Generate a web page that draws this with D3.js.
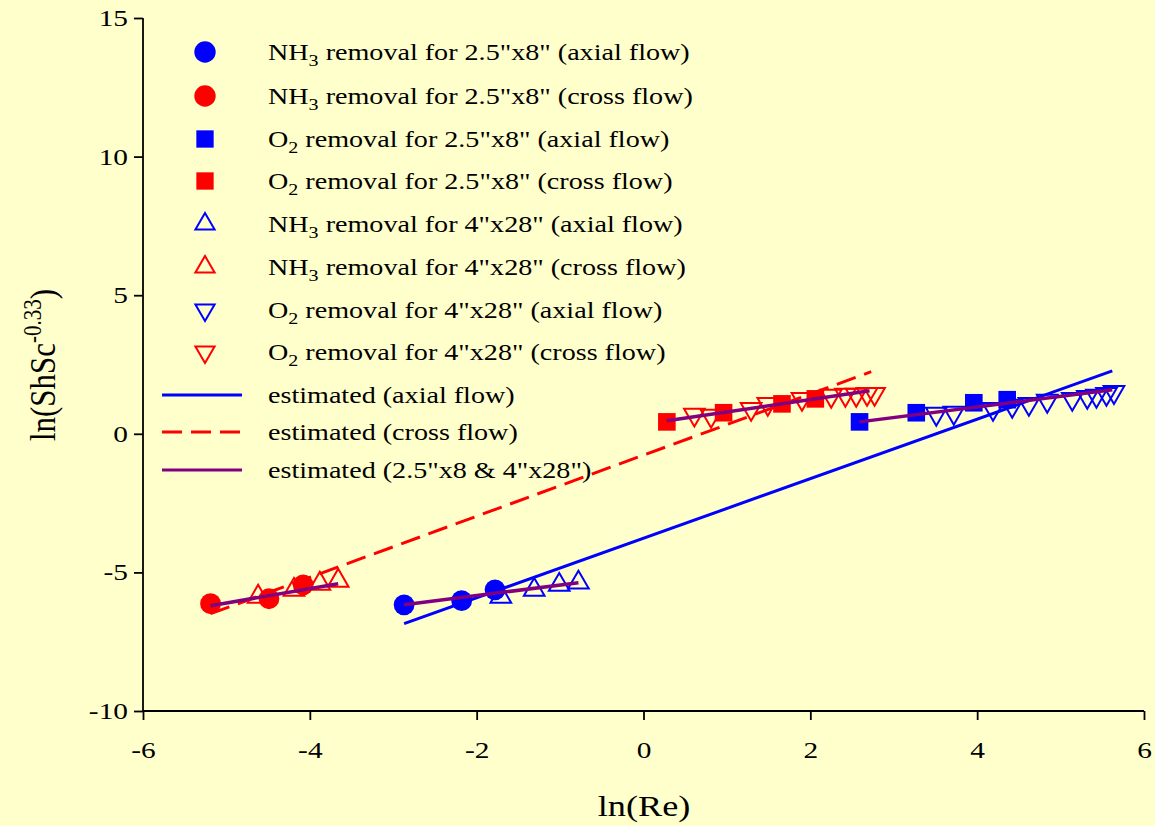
<!DOCTYPE html>
<html><head><meta charset="utf-8">
<script src="https://cdn.jsdelivr.net/npm/d3@7/dist/d3.min.js"></script>
<style>body{margin:0;background:#FFFFCC;}svg{display:block;} text{font-family:"Liberation Serif","DejaVu Serif",serif;}</style>
</head><body>
<svg id="c" width="1155" height="826"></svg>
<script>
// ---- data ----
const nh3SmallAxialX = [-2.87, -2.18, -1.78];
const nh3SmallAxialY = [-6.17, -6.02, -5.63];
const nh3SmallCrossX = [-5.19, -4.49, -4.08];
const nh3SmallCrossY = [-6.13, -5.95, -5.45];
const o2SmallAxialX = [2.59, 3.27, 3.96, 4.36];
const o2SmallAxialY = [0.43, 0.76, 1.12, 1.23];
const o2SmallCrossX = [0.28, 0.96, 1.66, 2.06];
const o2SmallCrossY = [0.43, 0.76, 1.08, 1.26];
const nh3LargeAxialX = [-1.71, -1.31, -1.01, -0.78];
const nh3LargeAxialY = [-5.88, -5.63, -5.45, -5.37];
const nh3LargeCrossX = [-4.62, -4.19, -3.88, -3.66];
const nh3LargeCrossY = [-5.88, -5.63, -5.41, -5.30];
const o2LargeAxialX = [3.51, 3.72, 4.19, 4.42, 4.62, 4.84, 5.14, 5.32, 5.43, 5.55, 5.64];
const o2LargeAxialY = [0.72, 0.76, 0.90, 1.01, 1.08, 1.19, 1.26, 1.33, 1.37, 1.44, 1.51];
const o2LargeCrossX = [0.61, 0.81, 1.29, 1.49, 1.90, 2.25, 2.42, 2.55, 2.68, 2.77];
const o2LargeCrossY = [0.69, 0.65, 0.90, 1.08, 1.26, 1.37, 1.41, 1.41, 1.44, 1.44];
// estimated lines (endpoints)
const estAxialX = [-2.87, 5.62], estAxialY = [-6.85, 2.27];
const estCrossX = [-5.19, 2.73], estCrossY = [-6.49, 2.24];
const estGroupX = [[-5.19, -3.66], [-2.87, -0.78], [0.28, 2.71], [2.59, 5.62]];
const estGroupY = [[-6.20, -5.41], [-6.17, -5.37], [0.47, 1.55], [0.43, 1.59]];
const xTicks = [-6, -4, -2, 0, 2, 4, 6];
const yTicks = [-10, -5, 0, 5, 10, 15];

// ---- drawing ----
const svg = d3.select("#c");
svg.append("rect").attr("width",1155).attr("height",826).attr("fill","#FFFFCC");
const x = d3.scaleLinear().domain([-6, 6]).range([143, 1144]);
const y = d3.scaleLinear().domain([-10, 15]).range([711, 18]);
const font = "Liberation Serif";
const SX = 1.25; // horizontal stretch of the original's text
const BLUE = "#0000FF", RED = "#FF0000", PURPLE = "#800080";

const xa = svg.append("g").attr("transform","translate(0,711)")
  .call(d3.axisBottom(x).tickValues(xTicks).tickSize(9).tickPadding(21).tickFormat(d => String(d)));
const ya = svg.append("g").attr("transform","translate(143,0)")
  .call(d3.axisLeft(y).tickValues(yTicks).tickSize(9).tickPadding(6).tickFormat(d => String(d)));
[xa, ya].forEach(a => {
  a.attr("font-family", null).attr("font-size", null);
  a.selectAll("path,line").attr("stroke","#000").attr("stroke-width",1.8);
  a.selectAll("text").style("font-family",font).style("font-size","23.5px").attr("fill","#000")
    .each(function() {
      const t = d3.select(this);
      const tx = +t.attr("x") || 0, ty = +t.attr("y") || 0;
      t.attr("x", 0).attr("y", 0).attr("transform", `translate(${tx},${ty}) scale(${SX},1)`);
    });
});
xa.select(".domain").attr("d","M143,0H1144");
ya.select(".domain").attr("d","M0,711V18");

// lines
const line = d3.line().x(d => x(d[0])).y(d => y(d[1]));
const zip = (a, b) => a.map((v, i) => [v, b[i]]);
svg.append("path").attr("d", line(zip(estCrossX, estCrossY))).attr("stroke",RED).attr("stroke-width",3)
  .attr("stroke-dasharray","20,9").attr("fill","none");

// markers
const sym = (type, size) => d3.symbol().type(type).size(size)();
const TRI = 185;
function pts(xs, ys, type, size, color, filled, rot) {
  svg.append("g").selectAll("path").data(zip(xs, ys)).join("path")
    .attr("d", sym(type, size))
    .attr("transform", d => `translate(${x(d[0])},${y(d[1])})` + (rot ? " rotate(180)" : ""))
    .attr("fill", filled ? color : "none")
    .attr("stroke", color).attr("stroke-width", filled ? 0 : 2);
}
pts(nh3LargeCrossX, nh3LargeCrossY, d3.symbolTriangle, TRI, RED, false, false);
pts(nh3LargeAxialX, nh3LargeAxialY, d3.symbolTriangle, TRI, BLUE, false, false);
pts(o2LargeCrossX, o2LargeCrossY, d3.symbolTriangle, TRI, RED, false, true);
pts(o2LargeAxialX, o2LargeAxialY, d3.symbolTriangle, TRI, BLUE, false, true);
pts(nh3SmallCrossX, nh3SmallCrossY, d3.symbolCircle, 340, RED, true, false);
pts(nh3SmallAxialX, nh3SmallAxialY, d3.symbolCircle, 340, BLUE, true, false);
pts(o2SmallCrossX, o2SmallCrossY, d3.symbolSquare, 310, RED, true, false);
pts(o2SmallAxialX, o2SmallAxialY, d3.symbolSquare, 310, BLUE, true, false);

svg.append("path").attr("d", line(zip(estAxialX, estAxialY))).attr("stroke",BLUE).attr("stroke-width",3).attr("fill","none");
estGroupX.forEach((gx, i) => {
  svg.append("path").attr("d", line(zip(gx, estGroupY[i]))).attr("stroke",PURPLE).attr("stroke-width",3.5).attr("fill","none");
});

// legend
const legend = [
  {m:"circle", c:BLUE, t:["NH","3"," removal for 2.5\"x8\" (axial flow)"]},
  {m:"circle", c:RED, t:["NH","3"," removal for 2.5\"x8\" (cross flow)"]},
  {m:"square", c:BLUE, t:["O","2"," removal for 2.5\"x8\" (axial flow)"]},
  {m:"square", c:RED, t:["O","2"," removal for 2.5\"x8\" (cross flow)"]},
  {m:"up", c:BLUE, t:["NH","3"," removal for 4\"x28\" (axial flow)"]},
  {m:"up", c:RED, t:["NH","3"," removal for 4\"x28\" (cross flow)"]},
  {m:"down", c:BLUE, t:["O","2"," removal for 4\"x28\" (axial flow)"]},
  {m:"down", c:RED, t:["O","2"," removal for 4\"x28\" (cross flow)"]},
  {m:"line", c:BLUE, t:["estimated (axial flow)"]},
  {m:"dash", c:RED, t:["estimated (cross flow)"]},
  {m:"line", c:PURPLE, t:["estimated (2.5\"x8 & 4\"x28\")"]}
];
const rowY = [52, 96, 139, 181, 224, 267, 310, 352, 395, 432, 470];
legend.forEach((e, i) => {
  const yy = rowY[i], g = svg.append("g");
  if (e.m === "circle") g.append("path").attr("d", sym(d3.symbolCircle, 360)).attr("transform",`translate(205,${yy})`).attr("fill",e.c);
  if (e.m === "square") g.append("path").attr("d", sym(d3.symbolSquare, 300)).attr("transform",`translate(205,${yy})`).attr("fill",e.c);
  if (e.m === "up" || e.m === "down") g.append("path").attr("d", sym(d3.symbolTriangle, 160))
     .attr("transform",`translate(205,${yy})` + (e.m === "down" ? " rotate(180)" : "")).attr("fill","none").attr("stroke",e.c).attr("stroke-width",2);
  if (e.m === "line" || e.m === "dash") g.append("line").attr("x1",162).attr("x2",242).attr("y1",yy).attr("y2",yy)
     .attr("stroke",e.c).attr("stroke-width",3).attr("stroke-dasharray", e.m === "dash" ? "20,9" : null);
  const tx = g.append("text").attr("transform",`translate(268,${yy+8}) scale(${SX},1)`)
    .style("font-family",font).style("font-size","22.5px").attr("fill","#000");
  if (e.t.length === 1) tx.text(e.t[0]);
  else {
    tx.append("tspan").text(e.t[0]);
    tx.append("tspan").attr("dy",6).style("font-size","16px").text(e.t[1]);
    tx.append("tspan").attr("dy",-6).text(e.t[2]);
  }
});

// axis titles
svg.append("text").attr("transform",`translate(644,816) scale(${SX},1)`).attr("text-anchor","middle")
  .style("font-family",font).style("font-size","29px").text("ln(Re)");
const yt = svg.append("text").attr("transform",`translate(55,365) scale(1.15,1) rotate(-90)`).attr("text-anchor","middle")
  .style("font-family",font).style("font-size","31px");
yt.append("tspan").text("ln(ShSc");
yt.append("tspan").attr("dy",-12).style("font-size","21px").text("-0.33");
yt.append("tspan").attr("dy",12).text(")");
</script>
</body></html>
